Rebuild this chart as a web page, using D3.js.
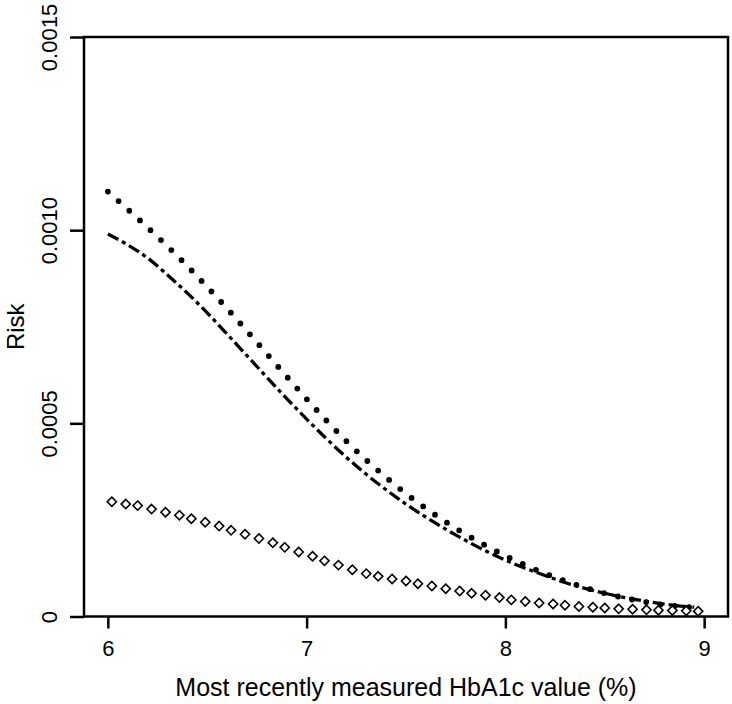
<!DOCTYPE html>
<html>
<head>
<meta charset="utf-8">
<script src="https://cdn.jsdelivr.net/npm/d3@7"></script>
<style>
  html, body { margin: 0; padding: 0; background: #fff; }
  svg text { font-family: "Liberation Sans", Arial, sans-serif; fill: #000; }
</style>
</head>
<body>
<div id="chart"></div>
<script>
// Data
const lineX = [6.0, 6.1, 6.2, 6.3, 6.4, 6.5, 6.6, 6.7, 6.8, 6.9, 7.0, 7.1, 7.2, 7.3, 7.4, 7.5,
  7.6, 7.7, 7.8, 7.9, 8.0, 8.1, 8.2, 8.3, 8.4, 8.5, 8.6, 8.7, 8.8, 8.9, 8.95];

// dotted curve
const dottedRisk = [0.001100, 0.001054, 0.001007, 0.000958, 0.000907, 0.000853, 0.000797, 0.000739,
  0.000680, 0.000621, 0.000563, 0.000507, 0.000454, 0.000405, 0.000360, 0.000318,
  0.000280, 0.000245, 0.000213, 0.000184, 0.000157, 0.000133, 0.000111, 0.000092,
  0.000075, 0.000060, 0.000048, 0.000038, 0.000030, 0.000025, 0.000023];

// dash-dot curve
const dashDotRisk = [0.000990, 0.000962, 0.000928, 0.000884, 0.000837, 0.000786, 0.000731, 0.000675,
  0.000619, 0.000564, 0.000511, 0.000460, 0.000412, 0.000368, 0.000328, 0.000291,
  0.000257, 0.000226, 0.000197, 0.000170, 0.000146, 0.000125, 0.000106, 0.000088,
  0.000073, 0.000060, 0.000049, 0.000040, 0.000032, 0.000026, 0.000024];

// diamond series
const diamondX = [6.02, 6.09, 6.15, 6.22, 6.29, 6.36, 6.42, 6.49, 6.56, 6.62, 6.69, 6.76, 6.83, 6.89, 6.96,
  7.03, 7.09, 7.16, 7.23, 7.30, 7.36, 7.43, 7.50, 7.56, 7.63, 7.70, 7.77, 7.83, 7.90, 7.97,
  8.03, 8.10, 8.17, 8.24, 8.30, 8.37, 8.44, 8.50, 8.57, 8.64, 8.71, 8.77, 8.84, 8.91, 8.97];
const diamondRisk = [0.000297, 0.000291, 0.000287, 0.000278, 0.000270, 0.000262, 0.000253, 0.000244,
  0.000234, 0.000223, 0.000213, 0.000202, 0.000191, 0.000179, 0.000167, 0.000156,
  0.000144, 0.000133, 0.000121, 0.000111, 0.000104, 0.000097, 0.000092, 0.000085,
  0.000079, 0.000072, 0.000066, 0.000060, 0.000055, 0.000049, 0.000043, 0.000039,
  0.000035, 0.0000325, 0.000029, 0.0000258, 0.000024, 0.0000222, 0.0000198, 0.0000189,
  0.0000172, 0.0000164, 0.0000155, 0.0000147, 0.0000138];

const xTicks = [6, 7, 8, 9];
const yTicks = [0, 0.0005, 0.0010, 0.0015];
const yTickLabels = ['0', '0.0005', '0.0010', '0.0015'];

const xTitle = 'Most recently measured HbA1c value (%)';
const yTitle = 'Risk';

const width = 732, height = 704;
const box = { left: 84, right: 728, top: 37, bottom: 616.5 };

const svg = d3.select('#chart').append('svg')
  .attr('width', width)
  .attr('height', height);

const x = d3.scaleLinear().domain([5.88, 9.12]).range([box.left, box.right]);
const y = d3.scaleLinear().domain([0, 0.0015]).range([box.bottom, box.top]);

// Axes
const xAxis = svg.append('g')
  .attr('transform', `translate(0,${box.bottom})`)
  .call(d3.axisBottom(x).tickValues(xTicks).tickSize(12).tickPadding(12).tickFormat(d3.format('d')));

const yAxis = svg.append('g')
  .attr('transform', `translate(${box.left},0)`)
  .call(d3.axisLeft(y).tickValues(yTicks).tickSize(14).tickFormat((d, i) => yTickLabels[i]));

[xAxis, yAxis].forEach(g => {
  g.select('.domain').remove();
  g.selectAll('.tick line').attr('stroke', '#000').attr('stroke-width', 2.5);
});

xAxis.selectAll('.tick text')
  .style('font-size', '22px');

yAxis.selectAll('.tick text')
  .style('font-size', '22px')
  .attr('text-anchor', 'middle')
  .attr('x', null)
  .attr('dy', null)
  .attr('transform', 'translate(-27,0) rotate(-90)');

// Box
svg.append('rect')
  .attr('x', box.left)
  .attr('y', box.top)
  .attr('width', box.right - box.left)
  .attr('height', box.bottom - box.top)
  .attr('fill', 'none')
  .attr('stroke', '#000')
  .attr('stroke-width', 2.5);

// Titles
svg.append('text')
  .attr('x', (box.left + box.right) / 2)
  .attr('y', 696)
  .attr('text-anchor', 'middle')
  .style('font-size', '25px')
  .text(xTitle);

svg.append('text')
  .attr('transform', `translate(24,${(box.top + box.bottom) / 2}) rotate(-90)`)
  .attr('text-anchor', 'middle')
  .style('font-size', '24px')
  .text(yTitle);

// Curves
const line = d3.line()
  .x(d => x(d[0]))
  .y(d => y(d[1]))
  .curve(d3.curveMonotoneX);

const plot = svg.append('g');

plot.append('path')
  .datum(lineX.map((v, i) => [v, dashDotRisk[i]]))
  .attr('d', line)
  .attr('fill', 'none')
  .attr('stroke', '#000')
  .attr('stroke-width', 3.3)
  .attr('stroke-dasharray', '12 4 4 4');

plot.append('path')
  .datum(lineX.map((v, i) => [v, dottedRisk[i]]))
  .attr('d', line)
  .attr('fill', 'none')
  .attr('stroke', '#000')
  .attr('stroke-width', 5.8)
  .attr('stroke-linecap', 'round')
  .attr('stroke-dasharray', '0 14.4');

plot.selectAll('path.diamond')
  .data(diamondX.map((v, i) => [v, diamondRisk[i]]))
  .enter()
  .append('path')
  .attr('class', 'diamond')
  .attr('transform', d => `translate(${x(d[0])},${y(d[1])})`)
  .attr('d', 'M0,-4.6L4.6,0L0,4.6L-4.6,0Z')
  .attr('fill', '#fff')
  .attr('stroke', '#000')
  .attr('stroke-width', 1.6);
</script>
</body>
</html>
